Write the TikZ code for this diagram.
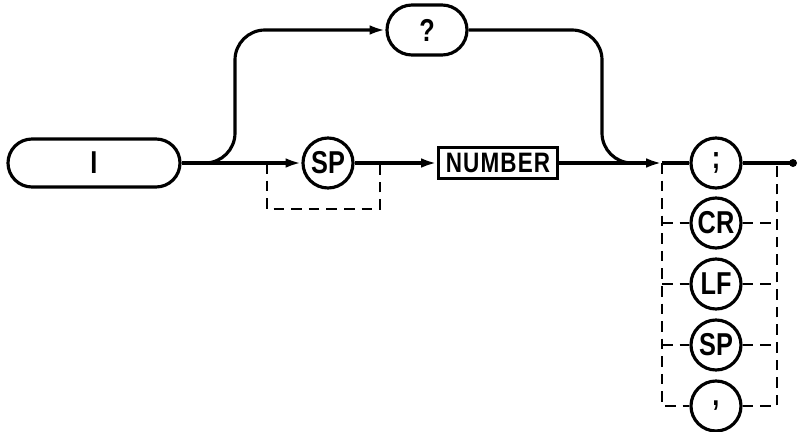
\documentclass[tikz,border=0pt]{standalone}
\usepackage{fontspec}
\setmainfont{Liberation Sans}
\newfontfamily\chartfont{Liberation Sans}[FakeStretch=0.8]
\usetikzlibrary{arrows.meta}

\begin{document}
\begin{tikzpicture}[
    line width=1.8pt,
    flow/.style={-{Latex[length=9pt,width=5.5pt]}},
    skip/.style={dash pattern=on 6pt off 4pt, line width=1.6pt},
    label font/.style={font=\fontsize{18}{18}\chartfont\bfseries},
    term/.style={draw, circle, minimum size=1cm, inner sep=0pt, label font},
    pill/.style={draw, inner sep=0pt, label font},
]
    \useasboundingbox (0,0) rectangle (15.96,8.62);
    \node[pill, minimum width=3.44cm, minimum height=0.96cm, rounded corners=0.48cm] (start) at (1.88,5.36) {I};
    \node[pill, minimum width=1.6cm, minimum height=1cm, rounded corners=0.5cm] (query) at (8.54,8.02) {?};
    \node[term] (sp) at (6.56,5.36) {SP};
    \node[pill, minimum width=2.38cm, minimum height=0.62cm, font=\fontsize{16}{16}\chartfont\bfseries\addfontfeatures{LetterSpace=4}] (number) at (9.96,5.36) {NUMBER};
    \node[term] (semi) at (14.32,5.36) {;};
    \node[term] (cr) at (14.32,4.16) {CR};
    \node[term] (lf) at (14.32,2.94) {LF};
    \node[term] (spb) at (14.32,1.72) {SP};
    \node[term] (comma) at (14.32,0.50) {,};

    \coordinate (split) at (4.10,5.36);
    \coordinate (drop) at (12.04,5.36);
    \coordinate (merge) at (12.70,5.36);
    \coordinate (skipin) at (5.34,5.36);
    \coordinate (skipout) at (7.60,5.36);
    \coordinate (colin) at (13.24,5.36);
    \coordinate (colout) at (15.54,5.36);
    \coordinate (stop) at (15.86,5.36);

    \draw[flow] (start) -- (sp);
    \draw[flow, rounded corners=0.6cm] (split) -- ++(0.6,0) |- (query.west);
    \draw[rounded corners=0.6cm] (query.east) -| (drop) -- (merge);
    \draw[flow] (sp) -- (number);
    \draw[flow] (number) -- (colin);
    \draw (colin) -- (semi);
    \draw (semi) -- (stop);
    \fill (stop) circle (0.08);

    \draw[skip] (skipin) -- ++(0,-0.92) -| (skipout);
    \draw[skip] (colin) |- (comma.west);
    \draw[skip] (comma.east) -| (colout);
    \foreach \n in {cr, lf, spb} {
        \draw[skip] (\n -| colin) -- (\n);
        \draw[skip] (\n) -- (\n -| colout);
    }
\end{tikzpicture}
\end{document}
